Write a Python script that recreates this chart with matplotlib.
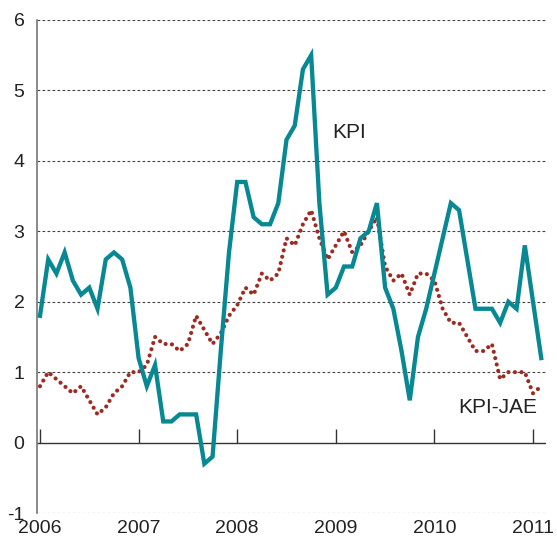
import matplotlib
matplotlib.use("Agg")
import matplotlib.pyplot as plt
import numpy as np

plt.rcParams['font.family'] = ['Liberation Sans', 'DejaVu Sans']

start_year = 2006
kpi = [1.8, 2.6, 2.4, 2.7, 2.3, 2.1, 2.2, 1.9, 2.6, 2.7, 2.6, 2.2,
       1.2, 0.8, 1.1, 0.3, 0.3, 0.4, 0.4, 0.4, -0.3, -0.2, 1.3, 2.7,
       3.7, 3.7, 3.2, 3.1, 3.1, 3.4, 4.3, 4.5, 5.3, 5.5, 3.4, 2.1,
       2.2, 2.5, 2.5, 2.9, 3.0, 3.4, 2.2, 1.9, 1.3, 0.6, 1.5, 1.9,
       2.4, 2.9, 3.4, 3.3, 2.6, 1.9, 1.9, 1.9, 1.7, 2.0, 1.9, 2.8,
       2.0, 1.2]
kpi_jae = [0.8, 1.0, 0.9, 0.8, 0.7, 0.8, 0.6, 0.4, 0.5, 0.7, 0.8, 1.0,
           1.0, 1.1, 1.5, 1.4, 1.4, 1.3, 1.4, 1.8, 1.6, 1.4, 1.55, 1.8,
           1.95, 2.2, 2.1, 2.4, 2.3, 2.4, 2.9, 2.8, 3.1, 3.3, 2.9, 2.6,
           2.8, 3.0, 2.7, 2.8, 3.0, 3.2, 2.5, 2.3, 2.4, 2.1, 2.4, 2.4,
           2.3, 1.9, 1.7, 1.7, 1.5, 1.3, 1.3, 1.4, 0.9, 1.0, 1.0, 1.0,
           0.7, 0.8]
years = [2006, 2007, 2008, 2009, 2010, 2011]
yticks = [-1, 0, 1, 2, 3, 4, 5, 6]

x = start_year + np.arange(len(kpi)) / 12.0

fig = plt.figure(figsize=(5.57, 5.42), dpi=100)
ax = fig.add_axes([37/557, 1-513/542, (546-37)/557, (513-20)/542])

teal = '#088893'
red = '#9E2B22'

for yv in yticks:
    if yv != 0:
        ax.axhline(yv, color='#444444', lw=0.8, ls=(0, (2.5, 2)), zorder=1)
ax.axhline(0, color='#333333', lw=1.0, zorder=1)

ax.plot(x, kpi_jae, color=red, lw=3.0, ls=(0, (0.01, 1.55)),
        dash_capstyle='round', zorder=3)
ax.plot(x, kpi, color=teal, lw=3.1, zorder=4, solid_joinstyle='miter')

ax.set_xlim(2006 - 3/98.7, 2011 + 13/98.7)
ax.set_ylim(-1, 6)

for s in ['top', 'right', 'bottom']:
    ax.spines[s].set_visible(False)
ax.spines['left'].set_color('#777777')
ax.spines['left'].set_linewidth(1.2)

ax.set_yticks(yticks)
ax.set_yticklabels([str(v) for v in yticks])
ax.tick_params(axis='y', length=0, pad=9, labelsize=14, colors='#222222')

ax.set_xticks(years)
ax.set_xticklabels([str(v) for v in years])
ax.tick_params(axis='x', length=0, pad=5, labelsize=14, colors='#222222')

sec = ax.secondary_xaxis(1/7)
sec.set_xticks(years)
sec.tick_params(axis='x', direction='in', length=10, width=1.0, color='#333333',
                labelbottom=False, labeltop=False)
sec.spines['bottom'].set_visible(False)
sec.spines['top'].set_visible(False)

ax.text(2009.14, 4.4, 'KPI', fontsize=15, ha='center', va='center', color='#222222')
ax.text(2010.64, 0.5, 'KPI-JAE', fontsize=15, ha='center', va='center', color='#222222')

fig.savefig('out.png', dpi=100)
